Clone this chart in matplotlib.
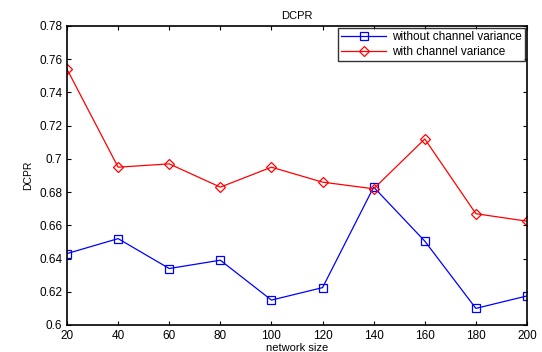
import matplotlib
matplotlib.use("Agg")
import matplotlib.pyplot as plt

# datos
network_size = [20, 40, 60, 80, 100, 120, 140, 160, 180, 200]
without_var = [0.643, 0.652, 0.634, 0.639, 0.615, 0.6225, 0.683, 0.6505, 0.610, 0.6175]
with_var = [0.754, 0.695, 0.697, 0.683, 0.695, 0.686, 0.682, 0.712, 0.667, 0.6625]
yticks = [0.6, 0.62, 0.64, 0.66, 0.68, 0.7, 0.72, 0.74, 0.76, 0.78]
ytick_labels = ["0.6", "0.62", "0.64", "0.66", "0.68", "0.7", "0.72", "0.74", "0.76", "0.78"]

plt.rcParams["font.family"] = ["Liberation Sans", "DejaVu Sans"]

fig = plt.figure(figsize=(5.42, 3.52), dpi=100)
ax = fig.add_axes([67 / 542, 1 - 325 / 352, 460 / 542, 299 / 352])

ax.plot(network_size, without_var, color="blue", lw=0.9, marker="s", ms=6,
        mfc="none", mec="blue", mew=0.9, label="without channel variance")
ax.plot(network_size, with_var, color="red", lw=0.9, marker="D", ms=5.5,
        mfc="none", mec="red", mew=0.9, label="with channel variance")

ax.set_xlim(20, 200)
ax.set_ylim(0.6, 0.78)
ax.set_xticks(network_size)
ax.set_yticks(yticks)
ax.set_yticklabels(ytick_labels)
ax.tick_params(direction="in", top=True, right=True, length=3, width=0.8,
               labelsize=8.5, colors="black")
for s in ax.spines.values():
    s.set_linewidth(1.2)

ax.set_title("DCPR", fontsize=8, pad=5)
ax.set_xlabel("network size", fontsize=8, labelpad=1)
ax.set_ylabel("DCPR", fontsize=7.5, labelpad=4)

leg = ax.legend(loc="upper right", fontsize=8.5, frameon=True, fancybox=False,
                borderaxespad=0.15, handlelength=3.8, borderpad=0.3,
                labelspacing=0.2, handletextpad=0.5)
leg.get_frame().set_edgecolor("black")
leg.get_frame().set_linewidth(1.0)

fig.savefig("out.png", dpi=100)
